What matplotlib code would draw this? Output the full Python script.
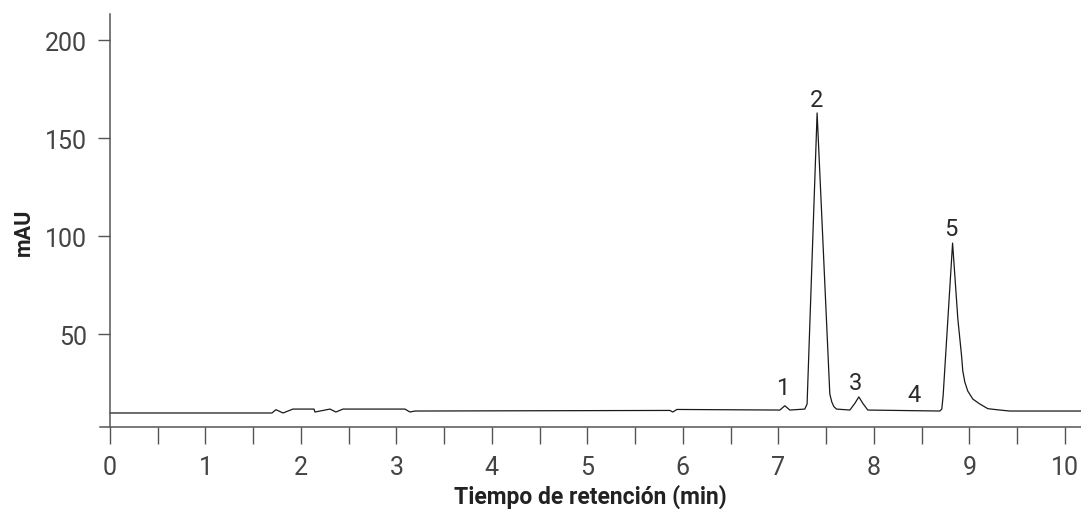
import matplotlib
matplotlib.use("Agg")
import matplotlib.pyplot as plt
from matplotlib.ticker import MultipleLocator

# chromatogram trace (time in min, signal in mAU)
time_min = [0.00, 1.696, 1.738, 1.812, 1.916, 2.136, 2.147, 2.304, 2.366, 2.440,
            3.089, 3.141, 3.194, 5.864, 5.895, 5.937, 7.016, 7.068, 7.120,
            7.277, 7.301, 7.406, 7.539, 7.560, 7.581, 7.609, 7.749,
            7.801, 7.843, 7.885, 7.937, 8.691, 8.712, 8.726, 8.825,
            8.880, 8.919, 8.932, 8.953, 8.984, 9.037, 9.110, 9.194, 9.319,
            9.424, 10.17]
signal_mau = [9.7, 9.7, 11.4, 9.7, 11.7, 11.7, 10.2, 11.7, 10.2, 11.7,
              11.7, 10.2, 10.7, 11.0, 10.2, 11.5, 11.2, 13.4, 11.2,
              11.7, 14.3, 162.8, 19.4, 15.3, 13.0, 11.7, 11.2,
              14.6, 17.9, 14.6, 11.2, 10.7, 11.7, 18.5, 96.4,
              57.7, 38.9, 31.1, 25.5, 20.9, 16.8, 14.3, 11.9, 11.2,
              10.7, 10.7]

# peak numbers and where they sit
peak_names = ["1", "2", "3", "4", "5"]
peak_x = [7.05, 7.40, 7.81, 8.42, 8.81]
peak_y = [16.8, 164.0, 19.3, 13.4, 97.8]

xticks_major = list(range(0, 11))
yticks = [50, 100, 150, 200]

plt.rcParams["font.family"] = ["Roboto", "DejaVu Sans"]

fig = plt.figure(figsize=(10.81, 5.10), dpi=100)
ax = fig.add_axes([100 / 1081, 82 / 510, 981 / 1081, 413 / 510])

ax.plot(time_min, signal_mau, color="#1a1a1a", lw=0.9)

for name, px, py in zip(peak_names, peak_x, peak_y):
    ax.text(px, py, name, ha="center", va="bottom", fontsize=17,
            color="#2a2a2a")

ax.set_xlim(-0.105, 10.17)
ax.set_ylim(2.55, 213.3)

for s in ["top", "right"]:
    ax.spines[s].set_visible(False)
ax.spines["left"].set_position(("data", 0))
for s in ["left", "bottom"]:
    ax.spines[s].set_color("#555555")
    ax.spines[s].set_linewidth(1.1)

ax.set_xticks(xticks_major)
ax.xaxis.set_minor_locator(MultipleLocator(0.5))
ax.set_yticks(yticks)

ax.tick_params(axis="x", which="both", direction="out", length=12, width=1.0,
               color="#555555", pad=8, labelsize=18, labelcolor="#444444")
ax.tick_params(axis="y", direction="out", length=8.5, width=1.0,
               color="#555555", pad=8, labelsize=18, labelcolor="#444444")

ax.set_xlabel("Tiempo de retención (min)", fontsize=16.5, fontweight="bold",
              color="#222222")
ax.set_ylabel("mAU", fontsize=15.5, fontweight="bold", color="#222222")
ax.xaxis.set_label_coords(0.5, -0.137)
ax.yaxis.set_label_coords(-0.066, 0.475)

fig.savefig("out.png", dpi=100)
